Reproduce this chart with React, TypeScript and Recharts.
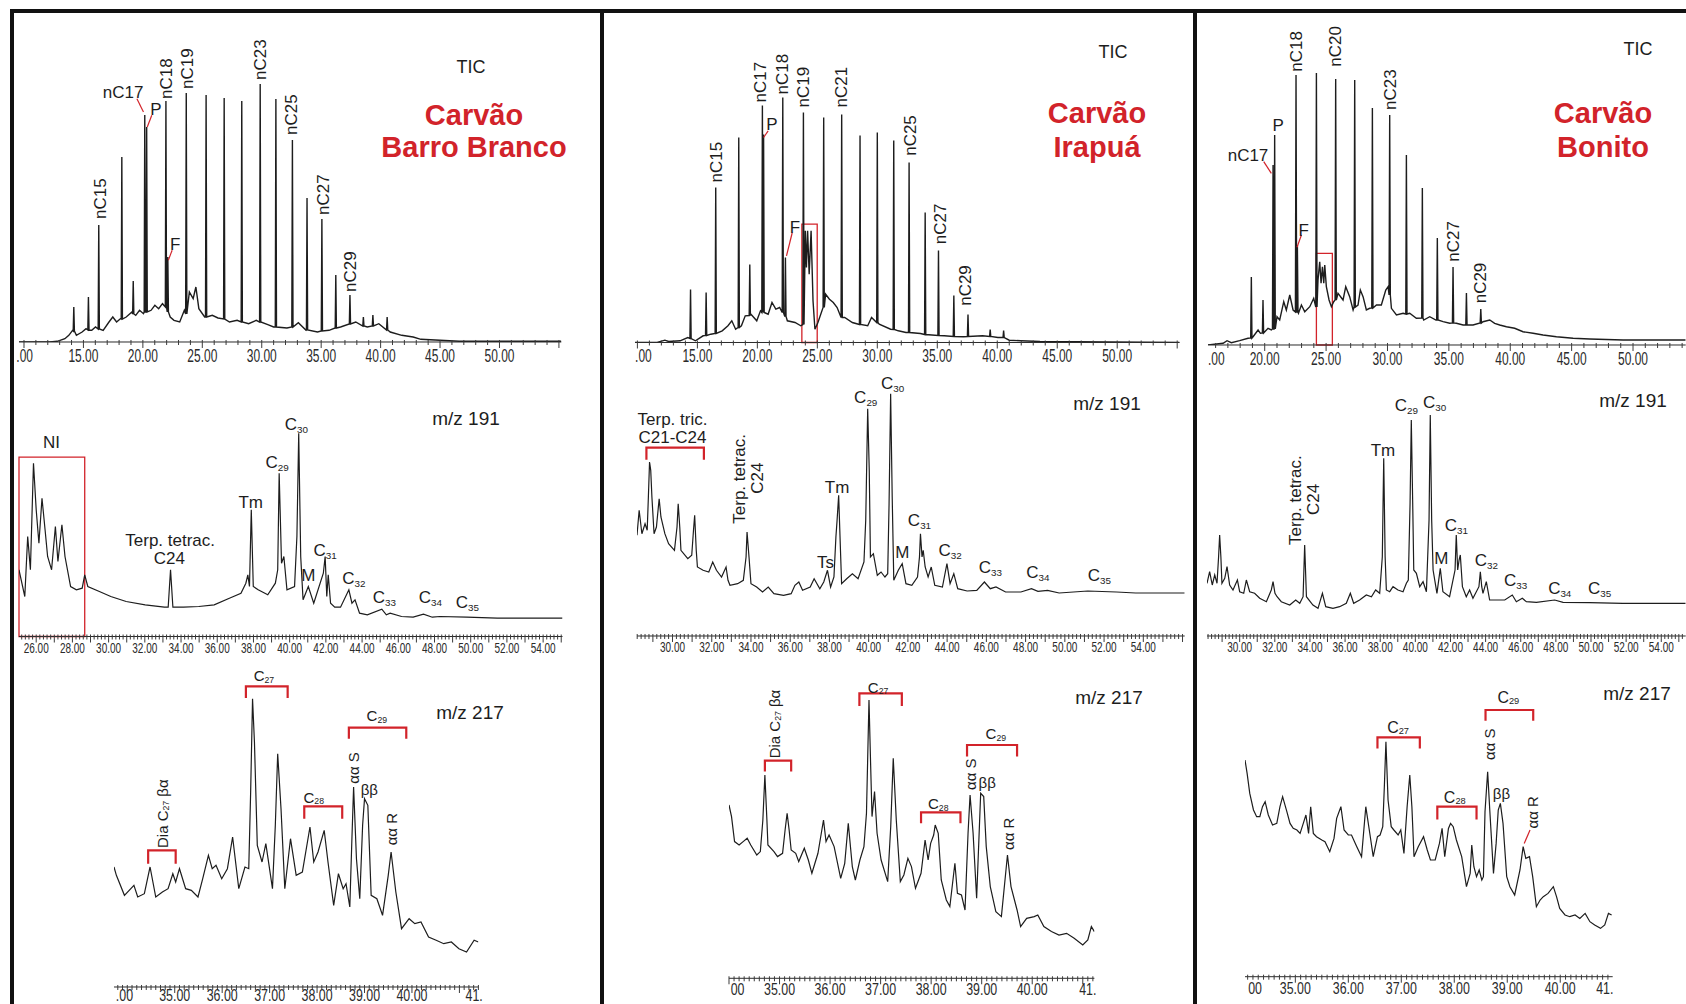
import React from "react";
import { ComposedChart, Line, XAxis, YAxis, ReferenceArea, ReferenceDot } from "recharts";

type Pt = [number, number];
type Peak = [number, number, number]; // time, baseline under the peak, apex
type Lbl = [number, number, string, "h" | "r", number?];
type Seg = [number, number, number, number];
type Box = [number, number, number];
type TickLbl = [number, string];

const INK = "#1d1d1d";
const RED = "#d2232a";
const FONT = '"Liberation Sans", Arial, Helvetica, sans-serif';

// ---------------- Carvão Barro Branco ----------------
const bbTicBase: Pt[] = [
  [9.58, 0], [11.19, 0], [11.67, 0], [12.16, 0], [12.8, 0.7], [13.44, 3.3], [13.77, 6.7], [14.09, 11.7], [14.41, 6.7],
  [14.89, 10], [15.22, 13.3], [15.7, 11.7], [16.02, 15], [16.66, 11.7], [17.15, 20], [17.47, 25], [17.79, 20], [18.11, 23.3],
  [18.6, 25], [19.08, 30], [19.4, 26.7], [19.72, 31.7], [20.05, 28.3], [20.69, 31.7], [21.01, 36.7], [21.33, 33.3],
  [21.65, 38.3], [22.3, 25], [22.62, 21.7], [23.1, 20], [23.49, 31.7], [23.91, 50], [24.23, 43.3], [24.46, 55], [24.71, 33.3],
  [25.2, 25], [25.84, 26.7], [26.32, 24], [27.29, 20], [27.93, 21.7], [28.9, 18.3], [29.54, 21.7], [30.51, 17.3], [31.0, 15],
  [32.12, 14], [33.08, 19.3], [33.73, 11.7], [34.69, 10], [35.66, 11.7], [36.63, 15], [37.91, 20], [38.88, 15], [39.85, 18.3],
  [40.81, 10], [41.78, 6.7], [42.74, 5], [43.39, 2.7], [44.99, 1.7], [46.61, 0.7], [55.2, 0.7],
];
const bbTicPeaks: Peak[] = [
  [14.19, 11, 35], [15.42, 12, 45], [16.29, 13, 117], [18.23, 23, 185], [19.19, 28, 61], [20.16, 30, 227], [20.32, 30, 215],
  [21.94, 35, 241], [22.1, 30, 85], [23.65, 28, 249], [25.32, 25, 247], [26.84, 23, 244], [28.32, 20, 241], [29.87, 20, 258],
  [31.19, 15, 243], [32.58, 15, 202], [33.81, 12, 144], [35.06, 11, 123], [36.23, 14, 67], [37.42, 18, 47], [38.55, 16, 25],
  [39.35, 16, 27], [40.55, 12, 25],
];
const bbTicLabels: Lbl[] = [
  [16.41, 123, "nC15", "r"], [21.98, 243, "nC18", "r"], [23.75, 253, "nC19", "r"], [29.86, 262, "nC23", "r"],
  [32.5, 207, "nC25", "r"], [35.18, 127, "nC27", "r"], [37.43, 50, "nC29", "r"],
  [18.34, 250, "nC17", "h"], [21.1, 233, "P", "h"], [22.72, 98, "F", "h"],
];
const bbTicPointers: Seg[] = [[19.5, 243.3, 20.05, 230], [20.75, 226.7, 20.37, 215], [22.46, 91.7, 22.14, 81.7]];

const bb191: Pt[] = [
  [25.05, 66.7], [25.37, 40], [25.53, 100], [25.68, 66.7], [25.85, 173.3], [26.0, 126.7], [26.15, 93.3], [26.32, 138.3],
  [26.49, 106.7], [26.63, 80], [26.85, 66.7], [27.06, 110], [27.2, 75], [27.42, 111.7], [27.59, 80], [27.9, 50], [28.22, 46.7],
  [28.54, 48.3], [28.68, 61.7], [28.85, 50], [29.49, 45], [30.12, 40], [30.97, 35], [32.02, 31.7], [33.08, 29.3], [33.29, 29.3],
  [33.42, 66.7], [33.55, 29.3], [34.14, 29.3], [34.98, 30], [35.83, 31.7], [36.67, 38.3], [37.31, 43.3], [37.58, 53.3],
  [37.69, 61.7], [37.78, 50], [37.88, 126.7], [37.99, 50], [38.26, 46.7], [38.79, 41.7], [39.21, 53.3], [39.34, 66.7],
  [39.42, 163.3], [39.55, 73.3], [39.68, 80], [39.85, 46.7], [40.27, 50], [40.4, 100], [40.5, 203.3], [40.61, 80], [40.74, 36.7],
  [41.03, 50], [41.33, 33.3], [41.86, 63.3], [41.96, 80], [42.05, 40], [42.13, 61.7], [42.26, 33.3], [42.49, 29.3], [42.81, 29.3],
  [43.27, 46.7], [43.44, 33.3], [43.61, 36.7], [43.86, 23.3], [44.29, 21.7], [45.09, 27.3], [45.34, 21.7], [45.55, 23.3],
  [46.18, 20], [46.82, 19.3], [47.39, 22.3], [47.88, 19.3], [48.3, 20], [49.78, 19.3], [51.47, 18.3], [55.07, 18.3],
];
const bb191Labels: Lbl[] = [
  [26.85, 195, "NI", "h"], [33.4, 96.7, "Terp. tetrac.", "h"], [33.36, 78.3, "C24", "h"], [37.85, 135, "Tm", "h"],
  [39.31, 175, "C_29", "h"], [40.37, 213, "C_30", "h"], [41.03, 61.7, "M", "h"], [41.96, 86.7, "C_31", "h"],
  [43.54, 58.3, "C_32", "h"], [45.23, 40, "C_33", "h"], [47.77, 40, "C_34", "h"], [49.82, 35, "C_35", "h"],
];
const bb191Box: Box[] = [[25.05, 28.68, 179.3]];

const bb217: Pt[] = [
  [33.72, 120], [33.77, 111.7], [33.94, 91.7], [34.14, 101.7], [34.22, 90], [34.36, 93.3], [34.48, 120], [34.6, 90], [34.74, 95],
  [34.86, 98.3], [34.96, 113.3], [35.02, 105], [35.1, 118.3], [35.23, 98.3], [35.35, 96.7], [35.49, 90], [35.59, 108.3],
  [35.71, 131.7], [35.79, 118.3], [35.87, 121.7], [35.99, 108.3], [36.11, 118.3], [36.22, 150], [36.35, 98.3], [36.48, 120],
  [36.56, 118.3], [36.6, 195], [36.64, 288.3], [36.68, 245], [36.74, 141.7], [36.84, 125], [36.92, 143.3], [37.06, 98.3],
  [37.12, 161.7], [37.17, 233.3], [37.24, 178.3], [37.32, 98.3], [37.44, 148.3], [37.56, 111.7], [37.69, 115], [37.85, 160],
  [37.93, 125], [38.02, 135], [38.15, 156.7], [38.23, 125], [38.35, 81.7], [38.45, 113.3], [38.55, 98.3], [38.61, 103.3],
  [38.69, 80], [38.73, 141.7], [38.77, 200], [38.83, 128.3], [38.9, 88.3], [38.96, 161.7], [39.0, 188.3], [39.07, 181.7],
  [39.14, 91.7], [39.26, 88.3], [39.38, 71.7], [39.5, 111.7], [39.56, 135], [39.66, 95], [39.78, 58.3], [39.94, 68.3],
  [40.06, 63.3], [40.19, 65], [40.35, 50], [40.51, 46.7], [40.67, 43.3], [40.83, 45], [40.99, 38.3], [41.15, 35], [41.31, 46.7],
  [41.4, 45],
];
const bb217Brackets: Seg[] = [[34.44, 35.02, 136.7, 123.3], [36.5, 37.38, 300.7, 289], [37.73, 38.53, 180.7, 168.3], [38.67, 39.88, 259.3, 248.3]];
const bb217Labels: Lbl[] = [
  [36.88, 311.7, "C_27", "h", 15], [37.93, 190, "C_28", "h", 15], [39.26, 271.7, "C_29", "h", 15],
  [34.73, 139, "Dia C_27 βα", "r", 15], [38.75, 203.3, "αα S", "r", 15], [39.1, 198.3, "ββ", "h", 15], [39.56, 141.7, "αα R", "r", 15],
];

// ---------------- Carvão Irapuá ----------------
const irTicBase: Pt[] = [
  [9.8, 0], [11.65, 0], [12.29, 2.3], [12.61, 1], [13.56, 1.7], [14.2, 5], [14.84, 1.7], [15.48, 6.7], [16.12, 8.3], [17.07, 11.7],
  [17.55, 16.7], [17.87, 21.7], [18.19, 13.3], [18.67, 16.7], [18.99, 26.7], [19.47, 28.3], [19.95, 21.7], [20.26, 31.7],
  [20.9, 28.3], [21.22, 40], [21.54, 33.3], [21.86, 35], [22.5, 21.7], [23.14, 20], [23.62, 16.7], [24.0, 111.7], [24.09, 75],
  [24.19, 111.7], [24.32, 68.3], [24.48, 111.7], [24.64, 41.7], [24.8, 13.3], [25.05, 20], [25.69, 48.3], [26.01, 43.3],
  [26.33, 40], [26.65, 35], [27.28, 25], [27.92, 20], [29.2, 16.7], [29.52, 25], [30.16, 18.3], [31.11, 13.3], [31.75, 11.7],
  [32.39, 10], [33.6, 9], [35.58, 6.7], [37.18, 5.7], [38.77, 6.7], [40.05, 5], [41.0, 2.3], [41.96, 1.7], [43.56, 1], [55.2, 0],
];
const irTicPeaks: Peak[] = [
  [14.43, 4, 53], [15.73, 7, 50], [16.53, 9, 155], [18.45, 15, 205], [19.37, 27, 78], [20.42, 30, 237], [20.52, 30, 208],
  [22.12, 30, 245], [22.34, 26, 85], [23.84, 18, 230], [25.53, 35, 225], [27.03, 25, 228], [28.56, 18, 207], [30.0, 20, 210],
  [31.37, 13, 202], [32.65, 10, 180], [33.99, 8, 130], [35.1, 7, 92], [36.38, 6, 47], [37.56, 6, 28], [39.41, 6, 13], [40.53, 5, 12],
];
const irTicLabels: Lbl[] = [
  [16.53, 160, "nC15", "r"], [20.26, 240, "nC17", "r"], [22.02, 248, "nC18", "r"], [23.77, 235, "nC19", "r"],
  [26.97, 235, "nC21", "r"], [32.71, 186.7, "nC25", "r"], [35.26, 98.3, "nC27", "r"], [37.34, 36.7, "nC29", "r"],
  [21.22, 218.3, "P", "h"], [23.14, 115.7, "F", "h"],
];
const irTicPointers: Seg[] = [[20.9, 211.7, 20.52, 205], [22.91, 110, 22.43, 86.7]];
const irTicBox: Box[] = [[23.71, 24.99, 118.3]];

const ir191: Pt[] = [
  [28.19, 100.7], [28.3, 125.7], [28.44, 102.3], [28.6, 112.3], [28.71, 105.7], [28.77, 139], [28.83, 174], [28.89, 165.7],
  [28.95, 139], [29.06, 102.3], [29.18, 109], [29.32, 137.3], [29.41, 119], [29.61, 102.3], [29.8, 92.3], [30.1, 85.7],
  [30.23, 109], [30.29, 132.3], [30.37, 109], [30.43, 85.7], [30.78, 77.3], [30.98, 80.7], [31.07, 105.7], [31.13, 120.7],
  [31.21, 85.7], [31.27, 69], [31.56, 65.7], [31.85, 64], [32.05, 74], [32.24, 65.7], [32.5, 59], [32.73, 69], [32.83, 55.7],
  [32.93, 50.7], [33.32, 52.3], [33.61, 55.7], [33.75, 79], [33.8, 104], [33.9, 79], [34.0, 52.3], [34.29, 49], [34.59, 44],
  [34.88, 49], [35.17, 42.3], [35.66, 40.7], [36.05, 42.3], [36.24, 50.7], [36.44, 54], [36.63, 45.7], [37.02, 49], [37.22, 57.3],
  [37.51, 47.3], [37.71, 54], [37.9, 65.7], [38.06, 49], [38.23, 59], [38.33, 99], [38.39, 115.7], [38.47, 140.7], [38.54, 99],
  [38.62, 52.3], [38.88, 57.3], [39.17, 62.3], [39.46, 57.3], [39.76, 74], [39.85, 115.7], [39.95, 227.3], [40.03, 165.7],
  [40.09, 79], [40.24, 82.3], [40.44, 60.7], [40.63, 64], [40.83, 59], [40.97, 62.3], [41.04, 132.3], [41.12, 242.3], [41.2, 139],
  [41.28, 55.7], [41.51, 65.7], [41.71, 72.3], [41.9, 52.3], [42.2, 50.7], [42.49, 59], [42.59, 79], [42.64, 102.3], [42.72, 79],
  [42.78, 85.7], [42.88, 69], [43.03, 59], [43.19, 69], [43.37, 50.7], [43.76, 49], [43.99, 72.3], [44.15, 52.3], [44.34, 62.3],
  [44.54, 47.3], [45.02, 45], [45.51, 45.7], [45.9, 54], [46.2, 47.3], [46.49, 49], [46.98, 44], [47.76, 44], [48.3, 47.3],
  [48.63, 44.7], [49.12, 45.7], [49.71, 43], [51.17, 45], [52.63, 44], [53.61, 43], [56.11, 43],
];
const ir191Brackets: Seg[] = [[28.67, 31.6, 188.3, 176.3]];
const ir191Labels: Lbl[] = [
  [30, 217.3, "Terp. tric.", "h"], [30, 199, "C21-C24", "h"], [33.41, 112.3, "Terp. tetrac.", "r"], [34.29, 142.3, "C24", "r"],
  [38.39, 149, "Tm", "h"], [37.8, 74, "Ts", "h"], [39.85, 239, "C_29", "h"], [41.22, 253, "C_30", "h"], [41.71, 84, "M", "h"],
  [42.59, 115.7, "C_31", "h"], [44.15, 85.7, "C_32", "h"], [46.2, 69, "C_33", "h"], [48.63, 64, "C_34", "h"], [51.76, 60.7, "C_35", "h"],
];

const ir217: Pt[] = [
  [34.0, 173.3], [34.05, 161.7], [34.11, 136.7], [34.2, 133.3], [34.28, 136.7], [34.36, 140], [34.43, 133.3], [34.55, 123.3],
  [34.62, 126.7], [34.67, 158.3], [34.71, 203.3], [34.75, 158.3], [34.77, 133.3], [34.89, 126.7], [34.96, 121.7], [35.06, 125],
  [35.11, 148.3], [35.15, 165], [35.19, 148.3], [35.23, 128.3], [35.32, 125], [35.38, 116.7], [35.49, 130], [35.57, 118.3],
  [35.64, 105], [35.76, 125], [35.87, 158.3], [35.92, 136.7], [35.98, 143.3], [36.08, 131.7], [36.21, 100], [36.29, 115],
  [36.36, 155], [36.44, 111.7], [36.5, 98.3], [36.59, 118.3], [36.67, 131.7], [36.72, 165], [36.77, 278.3], [36.8, 218.3],
  [36.83, 161.7], [36.88, 186.7], [36.93, 145], [37.01, 118.3], [37.14, 96.7], [37.2, 151.7], [37.25, 220], [37.31, 158.3],
  [37.39, 96.7], [37.46, 103.3], [37.54, 120], [37.61, 111.7], [37.69, 90], [37.8, 105], [37.88, 138.3], [37.94, 118.3],
  [37.99, 135], [38.05, 143.3], [38.08, 153.3], [38.14, 145], [38.2, 98.3], [38.3, 78.3], [38.37, 71.7], [38.47, 115], [38.52, 85],
  [38.6, 83.3], [38.67, 68.3], [38.73, 145], [38.77, 183.3], [38.83, 145], [38.9, 80], [38.98, 185], [39.04, 181.7], [39.09, 131.7],
  [39.17, 91.7], [39.28, 66.7], [39.39, 61.7], [39.51, 123.3], [39.58, 91.7], [39.7, 68.3], [39.77, 51.7], [39.89, 60],
  [40.04, 61.7], [40.11, 63.3], [40.23, 51.7], [40.38, 46.7], [40.53, 43.3], [40.68, 45], [40.83, 40], [41.0, 33.3], [41.1, 38.3],
  [41.17, 51.7], [41.23, 46.7],
];
const ir217Brackets: Seg[] = [[34.71, 35.23, 217.7, 206.7], [36.58, 37.42, 285, 272.3], [37.8, 38.58, 166, 155], [38.71, 39.7, 233.3, 221.7]];
const ir217Labels: Lbl[] = [
  [36.95, 291.7, "C_27", "h", 15], [38.14, 175, "C_28", "h", 15], [39.28, 245, "C_29", "h", 15],
  [34.89, 220, "Dia C_27 βα", "r", 15], [38.77, 188.3, "αα S", "r", 15], [39.11, 196.7, "ββ", "h", 15], [39.53, 128.3, "αα R", "r", 15],
];

// ---------------- Carvão Bonito ----------------
const boTicBase: Pt[] = [
  [15.38, 0], [16.61, 1.7], [16.93, 4.3], [17.28, 2.3], [17.96, 4.3], [18.64, 6.7], [19.05, 8.3], [19.46, 15], [19.65, 11.7],
  [20.27, 16.7], [20.54, 15], [21.0, 28.3], [21.22, 25], [21.55, 43.3], [21.76, 35], [22.04, 50], [22.31, 35], [22.75, 31.7],
  [22.99, 40], [23.26, 33.3], [23.67, 38.3], [23.99, 46.7], [24.34, 65], [24.48, 83.3], [24.59, 61.7], [24.7, 78.3], [24.81, 61.7],
  [24.89, 80], [25.02, 58.3], [25.24, 45], [25.43, 38.3], [25.62, 43.3], [25.97, 51.7], [26.38, 45], [26.6, 58.3], [26.92, 48.3],
  [27.2, 35], [27.6, 40], [27.79, 55], [28.01, 48.3], [28.28, 35], [28.55, 36.7], [29.1, 40], [29.5, 40], [29.86, 55], [30.05, 58.3],
  [30.32, 36.7], [30.73, 30], [31.27, 31.7], [31.81, 31.7], [32.35, 26.7], [32.95, 25], [33.44, 28.3], [33.95, 25], [34.53, 23.3],
  [35.07, 21.7], [35.61, 21.7], [36.16, 20], [36.97, 20], [37.78, 23.3], [38.33, 25], [38.73, 21.7], [39.14, 20], [39.69, 18.3],
  [40.36, 16.7], [41.04, 13.3], [41.86, 11.7], [42.67, 10], [43.76, 8.3], [45.12, 6.7], [46.47, 6], [49.19, 5], [51.9, 5], [54.29, 5],
];
const boTicPeaks: Peak[] = [
  [18.91, 7, 68], [19.86, 12, 45], [20.68, 16, 180], [20.81, 16, 210], [22.55, 33, 270], [22.66, 33, 100], [24.21, 38, 272],
  [25.78, 45, 266], [27.33, 38, 265], [28.77, 37, 237], [30.18, 50, 230], [31.54, 31, 190], [32.84, 27, 157], [34.06, 25, 107],
  [35.34, 22, 78], [36.43, 20, 52], [37.6, 22, 36],
];
const boTicLabels: Lbl[] = [
  [22.58, 273.3, "nC18", "r"], [25.76, 278.3, "nC20", "r"], [30.18, 235, "nC23", "r"], [35.34, 83.3, "nC27", "r"],
  [37.57, 41.7, "nC29", "r"], [21.09, 220, "P", "h"], [18.64, 190, "nC17", "h"], [23.18, 115, "F", "h"],
];
const boTicPointers: Seg[] = [[19.92, 183.3, 20.54, 171.7], [22.99, 110, 22.63, 97.7]];
const boTicBox: Box[] = [[24.21, 25.51, 91.7]];

const bo191: Pt[] = [
  [28.14, 52.7], [28.29, 64.3], [28.44, 51], [28.58, 61], [28.71, 52.7], [28.8, 79.3], [28.86, 101], [28.93, 79.3], [28.99, 52.7],
  [29.15, 57.7], [29.28, 69.3], [29.43, 51], [29.62, 46], [29.87, 56], [30.0, 44.3], [30.23, 42.7], [30.38, 56], [30.57, 44.3],
  [30.85, 42.7], [31.14, 37.7], [31.52, 34.3], [31.8, 46], [31.9, 54.3], [32.01, 42.7], [32.13, 39.3], [32.37, 34.3], [32.85, 31],
  [33.19, 36], [33.42, 32.7], [33.61, 39.3], [33.7, 91], [33.8, 39.3], [34.17, 31], [34.46, 27.7], [34.71, 42.7], [34.9, 29.3],
  [35.31, 27.7], [35.69, 29.3], [36.07, 32.7], [36.3, 42.7], [36.49, 32.7], [36.83, 36], [37.21, 41], [37.5, 39.3], [37.74, 46],
  [37.97, 42.7], [38.12, 79.3], [38.2, 177.7], [38.28, 79.3], [38.35, 46], [38.54, 44.3], [38.73, 49.3], [39.01, 46], [39.3, 44.3],
  [39.49, 52.7], [39.6, 56], [39.7, 132.7], [39.77, 216], [39.85, 132.7], [39.91, 66], [40.06, 62.7], [40.25, 49.3], [40.44, 54.3],
  [40.63, 44.3], [40.78, 116], [40.85, 221], [40.93, 116], [41.01, 66], [41.23, 42.7], [41.42, 67.7], [41.57, 44.3], [41.95, 39.3],
  [42.26, 66], [42.33, 101], [42.41, 66], [42.49, 76], [42.56, 81], [42.68, 49.3], [42.9, 39.3], [43.09, 46], [43.28, 37.7],
  [43.62, 49.3], [43.7, 64.3], [43.78, 49.3], [43.85, 42.7], [44.04, 54.3], [44.23, 36], [44.61, 36], [45.09, 36], [45.52, 41],
  [45.75, 34.3], [46.09, 37.7], [46.32, 34.3], [46.89, 33.7], [47.93, 36], [48.41, 33.7], [49.92, 33.3], [51.82, 32.7], [55.39, 32.7],
];
const bo191Labels: Lbl[] = [
  [33.13, 91, "Terp. tetrac.", "r"], [34.17, 121, "C24", "r"], [38.16, 186, "Tm", "h"], [39.49, 231, "C_29", "h"],
  [41.1, 234.3, "C_30", "h"], [41.48, 77.7, "M", "h"], [42.33, 111, "C_31", "h"], [44.04, 76, "C_32", "h"],
  [45.71, 56, "C_33", "h"], [48.22, 47.7, "C_34", "h"], [50.49, 47.7, "C_35", "h"],
];

const bo217: Pt[] = [
  [34.05, 216.7], [34.09, 203.3], [34.14, 183.3], [34.21, 166.7], [34.27, 160], [34.33, 160], [34.38, 170], [34.43, 175],
  [34.49, 161.7], [34.57, 151.7], [34.65, 153.3], [34.71, 170], [34.76, 180], [34.84, 165], [34.9, 153.3], [34.96, 148.3],
  [35.03, 146.7], [35.09, 143.3], [35.15, 153.3], [35.2, 161.7], [35.25, 143.3], [35.29, 170], [35.34, 143.3], [35.4, 140],
  [35.5, 136.7], [35.56, 135], [35.65, 125], [35.73, 138.3], [35.78, 158.3], [35.86, 170], [35.92, 146.7], [36.0, 141.7],
  [36.06, 141.7], [36.16, 130], [36.25, 120], [36.33, 170], [36.41, 141.7], [36.47, 120], [36.55, 140], [36.6, 141.7],
  [36.65, 150], [36.68, 190], [36.71, 235], [36.75, 176.7], [36.81, 150], [36.86, 146.7], [36.94, 141.7], [36.99, 146.7],
  [37.05, 123.3], [37.11, 170], [37.16, 201.7], [37.2, 170], [37.24, 120], [37.32, 130], [37.42, 140], [37.49, 126.7],
  [37.55, 116.7], [37.64, 116.7], [37.72, 133.3], [37.77, 148.3], [37.82, 120], [37.89, 148.3], [37.93, 153.3], [37.98, 150],
  [38.04, 136.7], [38.14, 120], [38.23, 90], [38.3, 103.3], [38.33, 131.7], [38.37, 110], [38.42, 100], [38.47, 106.7],
  [38.52, 96.7], [38.55, 100], [38.58, 165], [38.63, 205], [38.67, 166.7], [38.74, 103.3], [38.79, 133.3], [38.83, 166.7],
  [38.87, 173.3], [38.92, 153.3], [38.99, 100], [39.05, 90], [39.14, 81.7], [39.24, 106.7], [39.3, 130], [39.35, 118.3],
  [39.42, 120], [39.48, 100], [39.55, 70], [39.62, 76.7], [39.68, 80], [39.77, 83.3], [39.87, 90], [39.93, 80], [39.99, 68.3],
  [40.09, 61.7], [40.18, 60], [40.28, 61.7], [40.37, 58.3], [40.47, 63.3], [40.56, 55], [40.65, 51.7], [40.76, 48.3],
  [40.84, 51.7], [40.91, 63.3], [40.97, 61.7],
];
const bo217Brackets: Seg[] = [[36.55, 37.35, 239.3, 228.3], [37.68, 38.42, 170, 157.3], [38.59, 39.49, 266.7, 256]];
const bo217Labels: Lbl[] = [
  [36.94, 250, "C_27", "h", 16], [38.01, 180, "C_28", "h", 16], [39.02, 280, "C_29", "h", 16],
  [38.66, 216.7, "αα S", "r", 15], [38.89, 183.3, "ββ", "h", 15], [39.46, 148.3, "αα R", "r", 15],
];
const bo217Pointers: Seg[] = [[39.43, 146.7, 39.32, 133.3]];

// ---------------- axis tick labels ----------------
const ticLabelsA: TickLbl[] = [[10.06, ".00"], [15, "15.00"], [20, "20.00"], [25, "25.00"], [30, "30.00"], [35, "35.00"], [40, "40.00"], [45, "45.00"], [50, "50.00"]];
const ticLabelsB: TickLbl[] = [[10.5, ".00"], [15, "15.00"], [20, "20.00"], [25, "25.00"], [30, "30.00"], [35, "35.00"], [40, "40.00"], [45, "45.00"], [50, "50.00"]];
const ticLabelsC: TickLbl[] = [[16.06, ".00"], [20, "20.00"], [25, "25.00"], [30, "30.00"], [35, "35.00"], [40, "40.00"], [45, "45.00"], [50, "50.00"]];
const m191LabelsA: TickLbl[] = [[26, "26.00"], [28, "28.00"], [30, "30.00"], [32, "32.00"], [34, "34.00"], [36, "36.00"], [38, "38.00"], [40, "40.00"], [42, "42.00"], [44, "44.00"], [46, "46.00"], [48, "48.00"], [50, "50.00"], [52, "52.00"], [54, "54.00"]];
const m191LabelsB: TickLbl[] = [[30, "30.00"], [32, "32.00"], [34, "34.00"], [36, "36.00"], [38, "38.00"], [40, "40.00"], [42, "42.00"], [44, "44.00"], [46, "46.00"], [48, "48.00"], [50, "50.00"], [52, "52.00"], [54, "54.00"]];
const m217LabelsA: TickLbl[] = [[33.94, ".00"], [35, "35.00"], [36, "36.00"], [37, "37.00"], [38, "38.00"], [39, "39.00"], [40, "40.00"], [41.31, "41."]];
const m217LabelsB: TickLbl[] = [[34.17, "00"], [35, "35.00"], [36, "36.00"], [37, "37.00"], [38, "38.00"], [39, "39.00"], [40, "40.00"], [41.1, "41."]];
const m217LabelsC: TickLbl[] = [[34.24, "00"], [35, "35.00"], [36, "36.00"], [37, "37.00"], [38, "38.00"], [39, "39.00"], [40, "40.00"], [40.84, "41."]];

// ---------------- helpers ----------------
const SPIKE = 0.05;
function withSpikes(base: Pt[], peaks: Peak[]) {
  const pts: Pt[] = [...base];
  peaks.forEach(([t, b, h]) => pts.push([t - SPIKE, b], [t, h], [t + SPIKE, b]));
  return pts.sort((a, b) => a[0] - b[0]);
}
const rows = (pts: Pt[]) => pts.map(([t, v]) => ({ t, v }));
const r3 = (v: number) => Math.round(v * 1000) / 1000;
function range(a: number, b: number, s: number) {
  const out: number[] = [];
  for (let k = Math.ceil(a / s - 1e-9); k * s <= b + 1e-9; k++) out.push(r3(k * s));
  return out;
}
const units = (s: string) => [...s].reduce((a, c) => a + (c === "." ? 0.278 : 0.556), 0);
const onStep = (v: number, s: number) => Math.abs(v / s - Math.round(v / s)) < 1e-6;

type Cfg = {
  x0: number; x1: number; top: number; axisY: number; domain: [number, number];
  trace: Pt[]; labels: Lbl[]; brackets?: Seg[]; pointers?: Seg[]; boxes?: Box[]; lineW: number;
  minorStep: number; majorStep: number; tickLabels: TickLbl[]; tickFont: number; tickLen: number; tickDy: number; labelFont: number;
};

function AxisTick(props: any) {
  const { x, y, payload, cfg } = props;
  const val = payload.value as number;
  const minor = onStep(val, cfg.minorStep);
  const major = onStep(val, cfg.majorStep);
  const lbl = (cfg.tickLabels as TickLbl[]).find((l) => Math.abs(l[0] - val) < 1e-6);
  return (
    <g>
      {minor && <line x1={x} x2={x} y1={y - 2} y2={y + (major ? 6 : 3)} stroke="#3a3a3a" strokeWidth={1} />}
      {lbl && (
        <text x={x} y={y + cfg.tickDy} textAnchor="middle" fontSize={cfg.tickFont} fontFamily={FONT} fill="#2a2a2a"
          textLength={(cfg.tickLen * units(lbl[1])) / units("00.00")} lengthAdjust="spacingAndGlyphs">
          {lbl[1]}
        </text>
      )}
    </g>
  );
}

function PeakText({ x, y, text, kind, fs }: { x: number; y: number; text: string; kind: "h" | "r"; fs: number }) {
  const parts = text.split(/_(\d+)/);
  const shift = fs * 0.3;
  const kids = parts.map((s, i) =>
    i % 2 === 1 ? (
      <tspan key={i} fontSize={fs * 0.58} dy={shift}>{s}</tspan>
    ) : s ? (
      <tspan key={i} dy={i > 0 ? -shift : 0}>{s}</tspan>
    ) : null
  );
  return (
    <text x={x} y={y} fontSize={fs} fontFamily={FONT} fill={INK} dominantBaseline="central"
      textAnchor={kind === "r" ? "start" : "middle"} transform={kind === "r" ? `rotate(-90 ${x} ${y})` : undefined}>
      {kids}
    </text>
  );
}

function Panel({ c }: { c: Cfg }) {
  const mL = 14, mR = 14, axisH = 26;
  const H = c.axisY - c.top;
  const ticks = Array.from(new Set([...range(c.domain[0], c.domain[1], c.minorStep), ...c.tickLabels.map((l) => r3(l[0]))]))
    .filter((v) => v >= c.domain[0] && v <= c.domain[1])
    .sort((a, b) => a - b);
  return (
    <div style={{ position: "absolute", left: c.x0 - mL, top: c.top }}>
      <ComposedChart width={c.x1 - c.x0 + mL + mR} height={H + axisH} data={rows(c.trace)} margin={{ top: 0, right: mR, bottom: 0, left: mL }}>
        <XAxis dataKey="t" type="number" domain={c.domain} allowDataOverflow ticks={ticks} interval={0} height={axisH}
          tickSize={0} tickMargin={0} tickLine={false} axisLine={{ stroke: "#2a2a2a", strokeWidth: 1 }} tick={<AxisTick cfg={c} />} />
        <YAxis type="number" domain={[0, H]} allowDataOverflow hide />
        {(c.boxes || []).map((b, i) => (
          <ReferenceArea key={"box" + i} x1={b[0]} x2={b[1]} y1={0} y2={b[2]} fill="none" stroke={RED} strokeWidth={1.3} ifOverflow="visible" />
        ))}
        <Line dataKey="v" type="linear" stroke={INK} strokeWidth={c.lineW} dot={false} activeDot={false} isAnimationActive={false} />
        {(c.brackets || []).map((b, i) => (
          <Line key={"br" + i} data={rows([[b[0], b[3]], [b[0], b[2]], [b[1], b[2]], [b[1], b[3]]])} dataKey="v" type="linear"
            stroke={RED} strokeWidth={2.2} dot={false} activeDot={false} isAnimationActive={false} />
        ))}
        {(c.pointers || []).map((p, i) => (
          <Line key={"pt" + i} data={rows([[p[0], p[1]], [p[2], p[3]]])} dataKey="v" type="linear"
            stroke={RED} strokeWidth={1.2} dot={false} activeDot={false} isAnimationActive={false} />
        ))}
        {c.labels.map((l, i) => (
          <ReferenceDot key={"lb" + i} x={l[0]} y={l[1]} r={1} ifOverflow="visible"
            shape={(p: any) => <PeakText x={p.cx} y={p.cy} text={l[2]} kind={l[3]} fs={l[4] || c.labelFont} />} />
        ))}
      </ComposedChart>
    </div>
  );
}

const ticAxis = { minorStep: 1, majorStep: 5, tickFont: 18, tickLen: 30, tickDy: 20, labelFont: 17, lineW: 1.4 };
const m191Axis = { minorStep: 0.2, majorStep: 1, tickFont: 15, tickLen: 25, tickDy: 16, labelFont: 17, lineW: 1.2 };
const m217Axis = { minorStep: 0.1, majorStep: 1, tickFont: 16, tickLen: 31, tickDy: 14.5, labelFont: 15, lineW: 1.2 };

const panels: Cfg[] = [
  { ...ticAxis, x0: 19.1, x1: 561.4, top: 14, axisY: 342, domain: [9.58, 55.2], trace: withSpikes(bbTicBase, bbTicPeaks), labels: bbTicLabels, pointers: bbTicPointers, tickLabels: ticLabelsA },
  { ...m191Axis, x0: 19.1, x1: 562.6, top: 358, axisY: 636.5, domain: [25.05, 55.07], trace: bb191, labels: bb191Labels, boxes: bb191Box, tickLabels: m191LabelsA },
  { ...m217Axis, x0: 114, x1: 478.4, top: 662, axisY: 987, domain: [33.72, 41.4], trace: bb217, labels: bb217Labels, brackets: bb217Brackets, tickLabels: m217LabelsA },
  { ...ticAxis, x0: 635.2, x1: 1179.8, top: 14, axisY: 342.5, domain: [9.8, 55.2], trace: withSpikes(irTicBase, irTicPeaks), labels: irTicLabels, pointers: irTicPointers, boxes: irTicBox, tickLabels: ticLabelsB },
  { ...m191Axis, x0: 637.1, x1: 1184.8, top: 358, axisY: 636, domain: [28.19, 56.11], trace: ir191, labels: ir191Labels, brackets: ir191Brackets, tickLabels: m191LabelsB },
  { ...m217Axis, x0: 729.4, x1: 1094.8, top: 662, axisY: 978.3, domain: [34.0, 41.23], trace: ir217, labels: ir217Labels, brackets: ir217Brackets, tickLabels: m217LabelsB, tickDy: 17 },
  { ...ticAxis, x0: 1208.3, x1: 1686, top: 14, axisY: 345, domain: [15.38, 54.29], trace: withSpikes(boTicBase, boTicPeaks), labels: boTicLabels, pointers: boTicPointers, boxes: boTicBox, tickLabels: ticLabelsC },
  { ...m191Axis, x0: 1207.3, x1: 1686, top: 358, axisY: 636, domain: [28.14, 55.39], trace: bo191, labels: bo191Labels, tickLabels: m191LabelsB },
  { ...m217Axis, x0: 1245, x1: 1612.7, top: 662, axisY: 976.7, domain: [34.05, 40.99], trace: bo217, labels: bo217Labels, brackets: bo217Brackets, pointers: bo217Pointers, tickLabels: m217LabelsC, tickDy: 17 },
];

const titles: { x: number; y: number; s: string; big?: boolean }[] = [
  { x: 471, y: 67, s: "TIC" }, { x: 474, y: 115, s: "Carvão", big: true }, { x: 474, y: 147, s: "Barro Branco", big: true },
  { x: 1113, y: 52, s: "TIC" }, { x: 1097, y: 113, s: "Carvão", big: true }, { x: 1097, y: 147, s: "Irapuá", big: true },
  { x: 1638, y: 49, s: "TIC" }, { x: 1603, y: 113, s: "Carvão", big: true }, { x: 1603, y: 147, s: "Bonito", big: true },
  { x: 466, y: 418, s: "m/z 191" }, { x: 1107, y: 403, s: "m/z 191" }, { x: 1633, y: 400, s: "m/z 191" },
  { x: 470, y: 712, s: "m/z 217" }, { x: 1109, y: 697, s: "m/z 217" }, { x: 1637, y: 693, s: "m/z 217" },
];

export default function App() {
  return (
    <div style={{ position: "absolute", left: 0, top: 0, width: 1686, height: 1004, overflow: "hidden", background: "#fff" }}>
      {panels.map((c, i) => <Panel key={i} c={c} />)}
      <svg width={1686} height={1004} style={{ position: "absolute", left: 0, top: 0, pointerEvents: "none" }}>
        <rect x={10} y={9} width={1676} height={4} fill="#111" />
        <rect x={10} y={9} width={4} height={995} fill="#111" />
        <rect x={600} y={9} width={4} height={995} fill="#111" />
        <rect x={1193} y={9} width={4} height={995} fill="#111" />
        {titles.map((t, i) => (
          <text key={i} x={t.x} y={t.y} textAnchor="middle" dominantBaseline="central" fontFamily={FONT}
            fontSize={t.big ? 29 : t.s === "TIC" ? 18 : 19} fontWeight={t.big ? 700 : 400} fill={t.big ? RED : INK}>
            {t.s}
          </text>
        ))}
      </svg>
    </div>
  );
}
